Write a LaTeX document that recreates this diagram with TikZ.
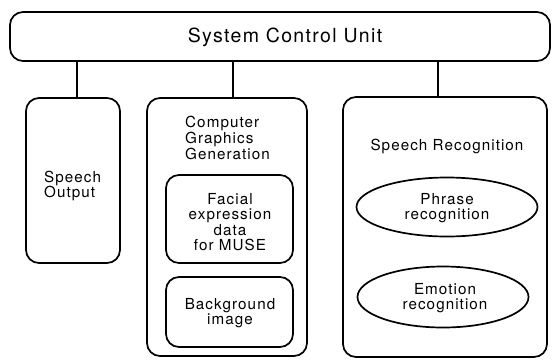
\documentclass[tikz,border=0pt]{standalone}
\usepackage{fontspec}
\setmainfont{TeX Gyre Heros}[LetterSpace=7]
\usetikzlibrary{shapes.geometric}
\begin{document}
\begin{tikzpicture}[x=1pt,y=-1pt,
  box/.style={draw,line width=1.7pt,rounded corners=13pt,inner sep=0pt},
  oval/.style={draw,line width=1.7pt,ellipse,inner sep=0pt},
  lab/.style={font=\fontsize{15.2}{15.6}\selectfont,inner sep=0pt},
  link/.style={line width=1.7pt}]
\useasboundingbox (0,0) rectangle (552,360);
% boxes
\node[box,minimum width=540pt,minimum height=49pt] (scu) at (280,36.5) {};
\node[box,minimum width=94pt,minimum height=165pt] (so) at (73,180.5) {};
\node[box,minimum width=160pt,minimum height=258pt] (cg) at (227,227) {};
\node[box,minimum width=127pt,minimum height=88pt] (fe) at (229.5,219) {};
\node[box,minimum width=127pt,minimum height=70pt] (bg) at (229.5,312) {};
\node[box,minimum width=204pt,minimum height=260pt] (sr) at (445,227) {};
\node[oval,minimum width=181pt,minimum height=59pt] (pr) at (447,207) {};
\node[oval,minimum width=171pt,minimum height=61pt] (em) at (443,297) {};
% texts
\node[lab,font=\fontsize{19.5}{21}\selectfont] (scut) at (285,37) {System Control Unit};
\node[lab,anchor=west,align=left] (sot) at (44,186) {Speech\\Output};
\node[lab,anchor=west,align=left] (cgt) at (185,138) {Computer\\Graphics\\Generation};
\node[lab,align=center] (fet) at (230,222) {Facial\\expression\\data\\for MUSE};
\node[lab,align=center] (bgt) at (230,313) {Background\\image};
\node[lab] (srt) at (447,146) {Speech Recognition};
\node[lab,align=center] (prt) at (447,208) {Phrase\\recognition};
\node[lab,align=center] (emt) at (445,298) {Emotion\\recognition};
% connectors
\coordinate (c1) at (77,0);
\coordinate (c2) at (233,0);
\coordinate (c3) at (438,0);
\draw[link] (c1 |- scu.south) -- (c1 |- so.north);
\draw[link] (c2 |- scu.south) -- (c2 |- cg.north);
\draw[link] (c3 |- scu.south) -- (c3 |- sr.north);
\end{tikzpicture}
\end{document}
